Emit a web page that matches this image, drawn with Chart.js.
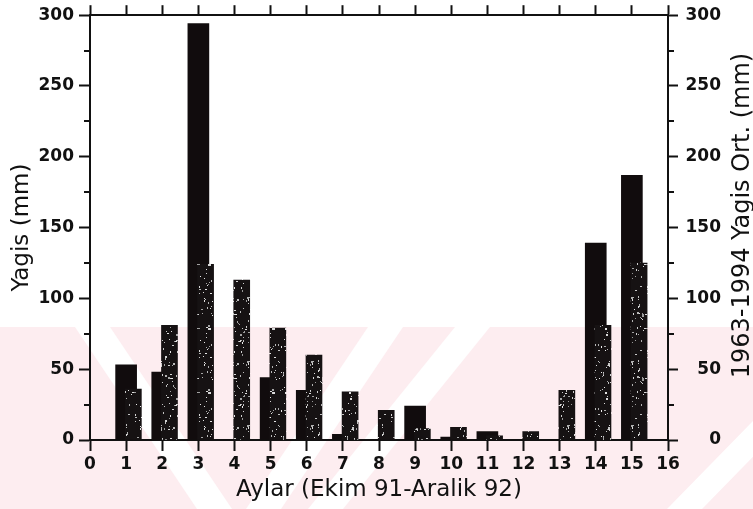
<!DOCTYPE html>
<html>
<head>
<meta charset="utf-8">
<title>Aylık yağış</title>
<script src="https://cdn.jsdelivr.net/npm/chart.js@4.4.1/dist/chart.umd.min.js"></script>
<style>
  html, body { margin: 0; padding: 0; background: #fff; }
  #wrap { width: 753px; height: 509px; }
</style>
</head>
<body>
<div id="wrap"><canvas id="c" width="753" height="509"></canvas></div>
<script>
// Months counted from October 1991 (1) to December 1992 (15)
const months = [1, 2, 3, 4, 5, 6, 7, 8, 9, 10, 11, 12, 13, 14, 15];
// Monthly precipitation, Oct 1991 - Dec 1992 (mm)
const observed = [53, 48, 294, 0, 44, 35, 4, 0, 24, 2, 6, 0, 0, 139, 187];
// Long-term monthly mean 1963-1994 (mm)
const longTermMean = [36, 81, 124, 113, 79, 60, 34, 21, 8, 9, 3, 6, 35, 81, 125];

// Axis ranges and tick steps
const xRange = [0, 16];
const xStep = 1;
const yRange = [0, 300];
const yStep = 50;
const yMinorStep = 25;

const xTitle = 'Aylar (Ekim 91-Aralik 92)';
const yTitle = 'Yagis (mm)';
const y2Title = '1963-1994 Yagis Ort. (mm)';

const INK = '#111';
const tickFont = { family: 'DejaVu Sans', size: 17, weight: 'bold' };
const titleFont = { family: 'DejaVu Sans', size: 23, weight: 'normal' };

// Stippled fill for the long-term mean bars (fixed pseudo-random speckle tile)
function stipple() {
  const c = document.createElement('canvas');
  c.width = 64; c.height = 64;
  const g = c.getContext('2d');
  g.fillStyle = '#161213';
  g.fillRect(0, 0, c.width, c.height);
  let s = 12345;
  const next = () => { s = (s * 1103515245 + 12345) % 2147483648; return s / 2147483648; };
  for (let i = 0; i < 150; i++) {
    const x = Math.floor(next() * c.width);
    const y = Math.floor(next() * c.height);
    const shade = 150 + Math.floor(next() * 90);
    g.fillStyle = `rgb(${shade},${shade},${shade})`;
    g.fillRect(x, y, next() < 0.3 ? 2 : 1, next() < 0.3 ? 2 : 1);
  }
  return g.createPattern(c, 'repeat');
}

// Paper background with the faint pink band across the lower part
const paperPlugin = {
  id: 'paper',
  beforeDraw(chart) {
    const ctx = chart.ctx;
    ctx.save();
    ctx.fillStyle = '#fff';
    ctx.fillRect(0, 0, chart.width, chart.height);
    ctx.fillStyle = '#fdedf0';
    ctx.fillRect(0, 327, chart.width, chart.height - 327);
    ctx.fillStyle = '#fff';
    const bands = [
      [[75, 327], [110, 327], [232, 509], [197, 509]],
      [[368, 327], [403, 327], [281, 509], [246, 509]],
      [[455, 327], [490, 327], [343, 509], [308, 509]],
      [[845, 327], [880, 327], [702, 509], [667, 509]]
    ];
    for (const b of bands) {
      ctx.beginPath();
      ctx.moveTo(b[0][0], b[0][1]);
      for (let i = 1; i < b.length; i++) ctx.lineTo(b[i][0], b[i][1]);
      ctx.closePath();
      ctx.fill();
    }
    ctx.restore();
  }
};

// Short minor ticks on both value axes and the right-hand axis title
const axisExtras = {
  id: 'axisExtras',
  afterDraw(chart) {
    const ctx = chart.ctx;
    const a = chart.chartArea;
    const y = chart.scales.y;
    ctx.save();
    ctx.strokeStyle = INK;
    ctx.lineWidth = 2;
    for (let v = yRange[0] + yMinorStep; v < yRange[1]; v += yStep) {
      const py = Math.round(y.getPixelForValue(v));
      ctx.beginPath();
      ctx.moveTo(a.left - 6, py); ctx.lineTo(a.left, py);
      ctx.moveTo(a.right, py); ctx.lineTo(a.right + 6, py);
      ctx.stroke();
    }
    ctx.fillStyle = INK;
    ctx.font = 'normal 24px "DejaVu Sans"';
    ctx.textAlign = 'center';
    ctx.textBaseline = 'middle';
    ctx.translate(a.right + 75, (a.top + a.bottom) / 2 - 12);
    ctx.rotate(-Math.PI / 2);
    ctx.fillText(y2Title, 0, 0);
    ctx.restore();
  }
};

const frameGrid = (len) => ({
  display: true,
  drawOnChartArea: false,
  drawTicks: true,
  tickLength: len,
  tickColor: INK,
  tickWidth: 2,
  offset: false
});
const frameBorder = { display: true, color: INK, width: 2 };

new Chart(document.getElementById('c'), {
  type: 'bar',
  data: {
    datasets: [
      {
        label: '1963-1994',
        data: months.map((m, i) => ({ x: m, y: longTermMean[i] })),
        xAxisID: 'xg',
        yAxisID: 'y',
        backgroundColor: stipple(),
        borderWidth: 0,
        barThickness: 16,
        grouped: false,
        order: 0
      },
      {
        label: '1991-1992',
        data: months.map((m, i) => ({ x: m, y: observed[i] })),
        xAxisID: 'x',
        yAxisID: 'y',
        backgroundColor: '#110c0d',
        borderWidth: 0,
        barThickness: 21,
        grouped: false,
        order: 1
      }
    ]
  },
  options: {
    responsive: false,
    devicePixelRatio: 1,
    animation: false,
    layout: { padding: { left: 0, right: 32, top: 4, bottom: 0 } },
    plugins: { legend: { display: false }, tooltip: { enabled: false } },
    scales: {
      x: {
        type: 'linear',
        position: 'bottom',
        min: xRange[0], max: xRange[1],
        offset: false,
        grid: frameGrid(11),
        border: frameBorder,
        ticks: { stepSize: xStep, autoSkip: false, maxRotation: 0, color: INK, font: tickFont, padding: 3 },
        title: { display: true, text: xTitle, color: INK, font: titleFont, padding: { top: 0, bottom: 5 } },
        afterFit(s) { s.height = 69; }
      },
      xTop: {
        type: 'linear',
        position: 'top',
        min: xRange[0], max: xRange[1],
        offset: false,
        grid: frameGrid(10),
        border: frameBorder,
        ticks: { stepSize: xStep, display: false },
        afterFit(s) { s.height = 10; }
      },
      // positions the long-term bars just right of each month mark
      xg: {
        type: 'linear',
        display: false,
        min: xRange[0] - 0.2, max: xRange[1] - 0.2,
        offset: false,
        grid: { offset: false }
      },
      y: {
        type: 'linear',
        position: 'left',
        min: yRange[0], max: yRange[1],
        grid: frameGrid(11),
        border: frameBorder,
        ticks: { stepSize: yStep, color: INK, font: tickFont, padding: 5 },
        title: { display: true, text: yTitle, color: INK, font: titleFont, padding: { top: 8, bottom: 0 } },
        afterFit(s) { s.width = 90; }
      },
      y2: {
        type: 'linear',
        position: 'right',
        min: yRange[0], max: yRange[1],
        grid: frameGrid(10),
        border: frameBorder,
        ticks: { stepSize: yStep, color: INK, font: tickFont, padding: 5, crossAlign: 'far' },
        afterFit(s) { s.width = 53; }
      }
    }
  },
  plugins: [paperPlugin, axisExtras]
});
</script>
</body>
</html>
